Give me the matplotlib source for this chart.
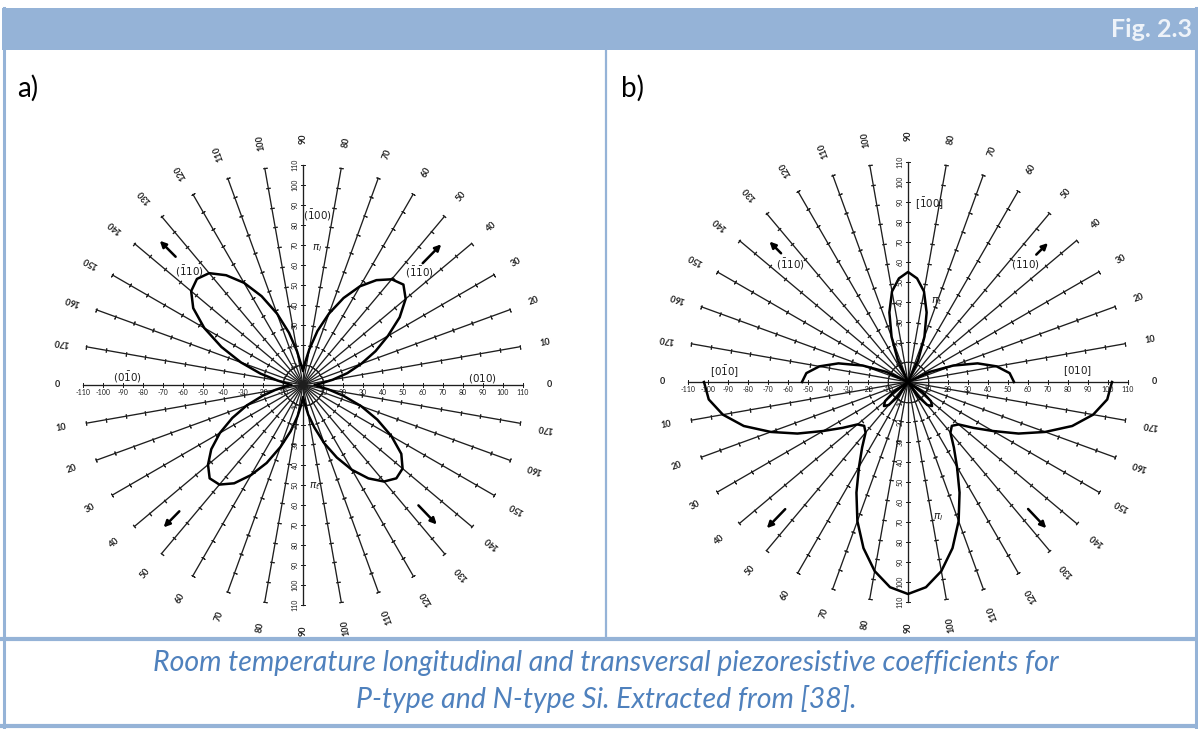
import numpy as np
import matplotlib.pyplot as plt
from matplotlib.patches import Rectangle

plt.rcParams['font.family'] = ['Lato', 'DejaVu Sans']

W, H = 1198, 729
BLUE = '#95b3d7'
TEXT_BLUE = '#4f81bd'
INK = '#1e1e1e'

# read-off angles (deg), every 5 degrees
ang_top = np.arange(0, 181, 5)
ang_bot = np.arange(180, 361, 5)

# a) P-type Si, values in 1e-11 1/Pa
a_upper = [6, 9, 15, 23, 31, 40, 49, 59, 67, 71, 69, 64, 57, 48, 38, 28, 18, 11, 7,
           10, 17, 27, 38, 49, 59, 67, 73, 75, 73, 67, 57, 45, 33, 22, 13, 8, 6]
a_lower = [6, 9, 14, 21, 30, 39, 48, 56, 62, 66, 65, 60, 52, 43, 33, 24, 16, 10, 6,
           9, 15, 22, 31, 40, 49, 57, 63, 66, 65, 60, 51, 41, 31, 21, 13, 8, 6]

# b) N-type Si
nan = np.nan
b_upper = [53, 51, 45, 36, 24, 12, 0, nan, nan, nan, nan, nan, 0, 12, 24, 36, 46, 52, 55,
           52, 46, 36, 24, 12, 0, nan, nan, nan, nan, nan, 0, 12, 24, 36, 45, 51, 53]
b_small = [nan] * 6 + [0, 9, 15, 17, 15, 9, 0] + [nan] * 11 + [0, 9, 15, 17, 15, 9, 0] + [nan] * 6
b_lower = [102, 100, 94, 85, 73, 61, 49, 40, 33, 31, 33, 40, 49, 61, 74, 86, 96, 103, 106,
           103, 96, 86, 74, 61, 49, 40, 33, 31, 33, 40, 49, 61, 73, 85, 94, 100, 102]

axis_vals = list(range(10, 111, 10))

# direction / symbol labels: (angle deg, radius, text)
a_labels = [(85, 85, r'$(\bar{1}00)$'), (84, 69, r'$\pi_l$'), (135, 80, r'$(\bar{1}10)$'),
            (44, 81, r'$(\bar{1}\bar{1}0)$'), (177.7, 88, r'$(0\bar{1}0)$'),
            (2.2, 90, r'$(010)$'), (276.7, 51, r'$\pi_t$')]
b_labels = [(83, 90, r'$[\bar{1}00]$'), (70.5, 43, r'$\pi_t$'), (135, 83, r'$(\bar{1}10)$'),
            (45, 83, r'$(\bar{1}10)$'), (176.6, 92, r'$[0\bar{1}0]$'),
            (3.7, 85, r'$[010]$'), (282.6, 69, r'$\pi_l$')]

# arrows: (angle deg, r tail, r head)
a_arrows = [(45.5, 84, 100), (134.8, 89, 103), (225.6, 87, 101), (313.8, 82, 98)]
b_arrows = [(44.8, 89, 100), (134.6, 89, 100), (226, 87, 103), (313.4, 86, 102)]

fig = plt.figure(figsize=(W / 100, H / 100), dpi=100)
bg = fig.add_axes([0, 0, 1, 1])
bg.set_xlim(0, W)
bg.set_ylim(H, 0)
bg.axis('off')

# frame
bg.add_patch(Rectangle((2, 8), W - 4, 42, color=BLUE, lw=0))
bg.plot([3.5, 3.5], [8, 727], color=BLUE, lw=2.2)
bg.plot([W - 2.5, W - 2.5], [8, 727], color=BLUE, lw=2.2)
bg.plot([2, W - 1], [725.5, 725.5], color=BLUE, lw=3)
bg.plot([2, W - 1], [639, 639], color=BLUE, lw=3)
bg.plot([605.5, 605.5], [50, 639], color=BLUE, lw=1.6)
bg.text(1192, 29, 'Fig. 2.3', ha='right', va='center', color='#eef3f9',
        fontsize=18, fontweight='bold')
bg.text(17, 88, 'a)', ha='left', va='center', fontsize=20, color='black')
bg.text(621, 88, 'b)', ha='left', va='center', fontsize=20, color='black')
bg.text(606, 663, 'Room temperature longitudinal and transversal piezoresistive coefficients for',
        ha='center', va='center', color=TEXT_BLUE, fontsize=20.5, style='italic')
bg.text(606, 699, 'P-type and N-type Si. Extracted from [38].',
        ha='center', va='center', color=TEXT_BLUE, fontsize=20.5, style='italic')


def polar_panel(cx, cy):
    half = 260
    rect = [(cx - half) / W, (H - cy - half) / H, 2 * half / W, 2 * half / H]
    ax = fig.add_axes(rect, projection='polar')
    ax.set_ylim(0, 130)
    ax.set_axis_off()
    for d in range(0, 360, 10):
        t = np.deg2rad(d)
        ax.plot([t, t], [0, 110], color=INK, lw=0.95)
        ax.plot(np.full(len(axis_vals), t), axis_vals, ls='none', marker=(2, 2, d),
                ms=3, mew=0.7, color=INK)
        lab = d % 180
        ax.text(t, 123, str(lab), rotation=lab, ha='center', va='center',
                fontsize=6.5, color='#222222', fontweight='bold')
    # numbers on the horizontal and vertical axes
    for v in axis_vals:
        for t, s in ((0, str(v)), (np.pi, '-' + str(v))):
            ax.annotate(s, xy=(t, v), xytext=(0, -3), textcoords='offset points',
                        ha='center', va='top', fontsize=5, color=INK)
        for t in (np.pi / 2, 3 * np.pi / 2):
            ax.annotate(str(v), xy=(t, v), xytext=(-3, 0), textcoords='offset points',
                        ha='right', va='center', fontsize=5, color=INK, rotation=90)
    return ax


def decorate(ax, labels, arrows):
    for d, r, s in labels:
        ax.text(np.deg2rad(d), r, s, ha='center', va='center', fontsize=7.5, color=INK)
    for d, r0, r1 in arrows:
        t = np.deg2rad(d)
        ax.annotate('', xy=(t, r1), xytext=(t, r0),
                    arrowprops=dict(arrowstyle='-|>', lw=1.8, color='black',
                                    mutation_scale=9))


ax_a = polar_panel(303, 385)
ax_a.plot(np.deg2rad(ang_top), a_upper, color='black', lw=1.8)
ax_a.plot(np.deg2rad(ang_bot), a_lower, color='black', lw=1.8)
decorate(ax_a, a_labels, a_arrows)

ax_b = polar_panel(908, 382)
ax_b.plot(np.deg2rad(ang_top), b_upper, color='black', lw=1.8)
ax_b.plot(np.deg2rad(ang_bot), b_small, color='black', lw=1.8)
ax_b.plot(np.deg2rad(ang_bot), b_lower, color='black', lw=1.8)
decorate(ax_b, b_labels, b_arrows)

fig.savefig('out.png', dpi=100)
